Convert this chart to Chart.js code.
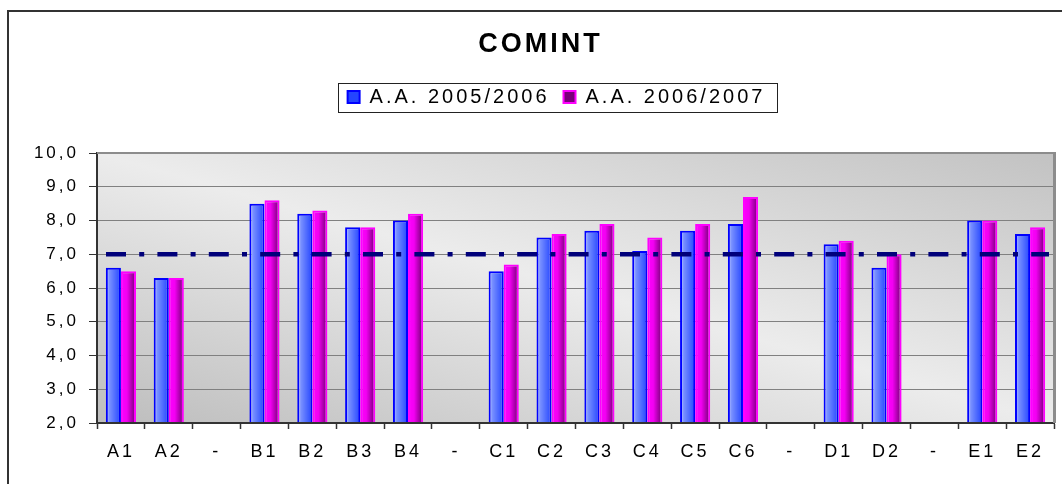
<!DOCTYPE html>
<html>
<head>
<meta charset="utf-8">
<title>COMINT</title>
<script src="https://cdn.jsdelivr.net/npm/chart.js@4.4.1/dist/chart.umd.min.js"></script>
<style>
  html, body { margin: 0; padding: 0; background: #fff; overflow: hidden; }
  #frame { position: absolute; left: 7px; top: 10px; width: 1062px; height: 472px;
           border-left: 2px solid #333; border-top: 2px solid #333; }
  #chart { display: block; }
</style>
</head>
<body>
<div id="frame"><canvas id="chart" width="1062" height="472"></canvas></div>
<script>
const CATEGORIES = ['A1', 'A2', '-', 'B1', 'B2', 'B3', 'B4', '-', 'C1', 'C2', 'C3', 'C4', 'C5', 'C6', '-', 'D1', 'D2', '-', 'E1', 'E2'];
const AA_2005_2006 = [6.6, 6.3, null, 8.5, 8.2, 7.8, 8.0, null, 6.5, 7.5, 7.7, 7.1, 7.7, 7.9, null, 7.3, 6.6, null, 8.0, 7.6];
const AA_2006_2007 = [6.5, 6.3, null, 8.6, 8.3, 7.8, 8.2, null, 6.7, 7.6, 7.9, 7.5, 7.9, 8.7, null, 7.4, 7.0, null, 8.0, 7.8];
const SERIES_LABELS = ['A.A. 2005/2006', 'A.A. 2006/2007'];
const Y_TICK_LABELS = ['2,0', '3,0', '4,0', '5,0', '6,0', '7,0', '8,0', '9,0', '10,0'];
const THRESHOLD = 7.0;

const CAT_PCT = 0.63;
const FONT = "'Liberation Sans', Arial, sans-serif";
const SPACING = '3px';

Chart.defaults.font.family = FONT;
Chart.defaults.color = '#000';

// horizontal gradient across one bar, side 0 = left bar of the pair, 1 = right bar
function barFill(context, stops, fallback, side) {
  if (context.type !== 'data') return fallback;
  const chart = context.chart;
  const x = chart.scales.x;
  if (!chart.chartArea || !x) return fallback;
  const center = x.getPixelForValue(context.dataIndex);
  const w = x.width / CATEGORIES.length * CAT_PCT / 2;
  const left = side === 0 ? center - w : center;
  const g = chart.ctx.createLinearGradient(left, 0, left + w, 0);
  stops.forEach(([o, c]) => g.addColorStop(o, c));
  return g;
}

const BLUE_STOPS = [[0, '#c4cfff'], [0.25, '#7890ff'], [1, '#2445ff']];
const MAGENTA_STOPS = [[0, '#ff00ff'], [0.4, '#f200f2'], [0.85, '#900090'], [1, '#7a007a']];

const decor = {
  id: 'decor',
  beforeLayout(chart) {
    chart.ctx.letterSpacing = SPACING;
  },
  afterLayout(chart) {
    // the original centres title and legend a little right of the plot-padding centre
    chart.titleBlock.left += 9;
    chart.titleBlock.right += 9;
    chart.legend.left += 25;
    chart.legend.right += 25;
  },
  beforeDraw(chart) {
    const { ctx, chartArea: a } = chart;
    ctx.letterSpacing = SPACING;
    const w = a.right - a.left, h = a.bottom - a.top;
    const cx = (a.left + a.right) / 2, cy = (a.top + a.bottom) / 2;
    const k = w * h / (w * w + h * h);
    const g = ctx.createLinearGradient(cx - k * h, cy + k * w, cx + k * h, cy - k * w);
    g.addColorStop(0, '#bdbdbd');
    g.addColorStop(0.5, '#ececec');
    g.addColorStop(1, '#c2c2c2');
    ctx.save();
    ctx.fillStyle = g;
    ctx.fillRect(a.left, a.top, w, h);
    ctx.restore();
  },
  afterDatasetsDraw(chart) {
    const { ctx, chartArea: a, scales: { y } } = chart;
    const py = y.getPixelForValue(THRESHOLD);
    ctx.save();
    ctx.strokeStyle = '#00007a';
    ctx.lineWidth = 4.5;
    ctx.setLineDash([20, 13.2, 5, 13.2]);
    ctx.beginPath();
    ctx.moveTo(a.left + 9, py);
    ctx.lineTo(a.right - 5, py);
    ctx.stroke();
    ctx.restore();
  },
  afterDraw(chart) {
    const { ctx, chartArea: a, legend } = chart;
    ctx.save();
    ctx.strokeStyle = '#8c8c8c';
    ctx.lineWidth = 2;
    ctx.beginPath();
    ctx.moveTo(a.left, a.top);
    ctx.lineTo(a.right, a.top);
    ctx.stroke();
    ctx.lineWidth = 3;
    ctx.beginPath();
    ctx.moveTo(a.right + 0.5, a.top - 1);
    ctx.lineTo(a.right + 0.5, a.bottom);
    ctx.stroke();

    // box round the legend
    const boxes = legend.legendHitBoxes;
    const first = boxes[0], last = boxes[boxes.length - 1];
    const cy = first.top + first.height / 2;
    ctx.strokeStyle = '#222';
    ctx.lineWidth = 1;
    ctx.strokeRect(Math.round(first.left - 10) + 0.5, Math.round(cy - 14.5) + 0.5,
      Math.round(last.left + last.width - first.left + 21), 29);
    ctx.restore();
  }
};

const ctx = document.getElementById('chart').getContext('2d');
const myChart = new Chart(ctx, {
  type: 'bar',
  data: {
    labels: CATEGORIES,
    datasets: [
      {
        label: SERIES_LABELS[0],
        data: AA_2005_2006,
        backgroundColor: (c) => barFill(c, BLUE_STOPS, '#6680ff', 0),
        borderColor: '#0000ff',
        borderWidth: 2,
      },
      {
        label: SERIES_LABELS[1],
        data: AA_2006_2007,
        backgroundColor: (c) => barFill(c, MAGENTA_STOPS, '#e000e0', 1),
        borderColor: '#ff00ff',
        borderWidth: 2,
      },
    ],
  },
  options: {
    responsive: false,
    animation: false,
    events: [],
    categoryPercentage: CAT_PCT,
    barPercentage: 1.0,
    layout: { padding: { left: 0, right: 17, top: 0, bottom: 0 } },
    plugins: {
      title: {
        display: true,
        text: 'COMINT',
        font: { size: 27, weight: 'bold', lineHeight: 1.2 },
        color: '#000',
        padding: { top: 16, bottom: 12.6 },
      },
      legend: {
        display: true,
        position: 'top',
        labels: {
          font: { size: 20 },
          color: '#000',
          boxWidth: 12,
          boxHeight: 12,
          padding: 14,
        },
      },
      // empty spacer between legend and plot
      subtitle: {
        display: true,
        text: '',
        weight: 500,
        position: 'top',
        font: { size: 1, lineHeight: 1 },
        padding: { top: 35, bottom: 0 },
      },
      tooltip: { enabled: false },
    },
    scales: {
      x: {
        afterFit(scale) { scale.height = 61; },
        grid: {
          display: true,
          drawOnChartArea: false,
          drawTicks: true,
          tickLength: 6,
          tickColor: '#333',
          tickWidth: 1.5,
        },
        border: { display: true, color: '#333', width: 2, z: 1 },
        ticks: {
          font: { size: 18 },
          color: '#000',
          padding: 12,
          maxRotation: 0,
          autoSkip: false,
        },
      },
      y: {
        min: 2,
        max: 10,
        afterFit(scale) { scale.width = 88; },
        grid: { color: '#808080', lineWidth: 1, tickLength: 8, tickColor: '#333' },
        border: { display: true, color: '#333', width: 2, z: 1 },
        ticks: {
          stepSize: 1,
          font: { size: 17 },
          color: '#000',
          padding: 10,
          callback: (value, index) => Y_TICK_LABELS[index],
        },
      },
    },
  },
  plugins: [decor],
});
</script>
</body>
</html>
